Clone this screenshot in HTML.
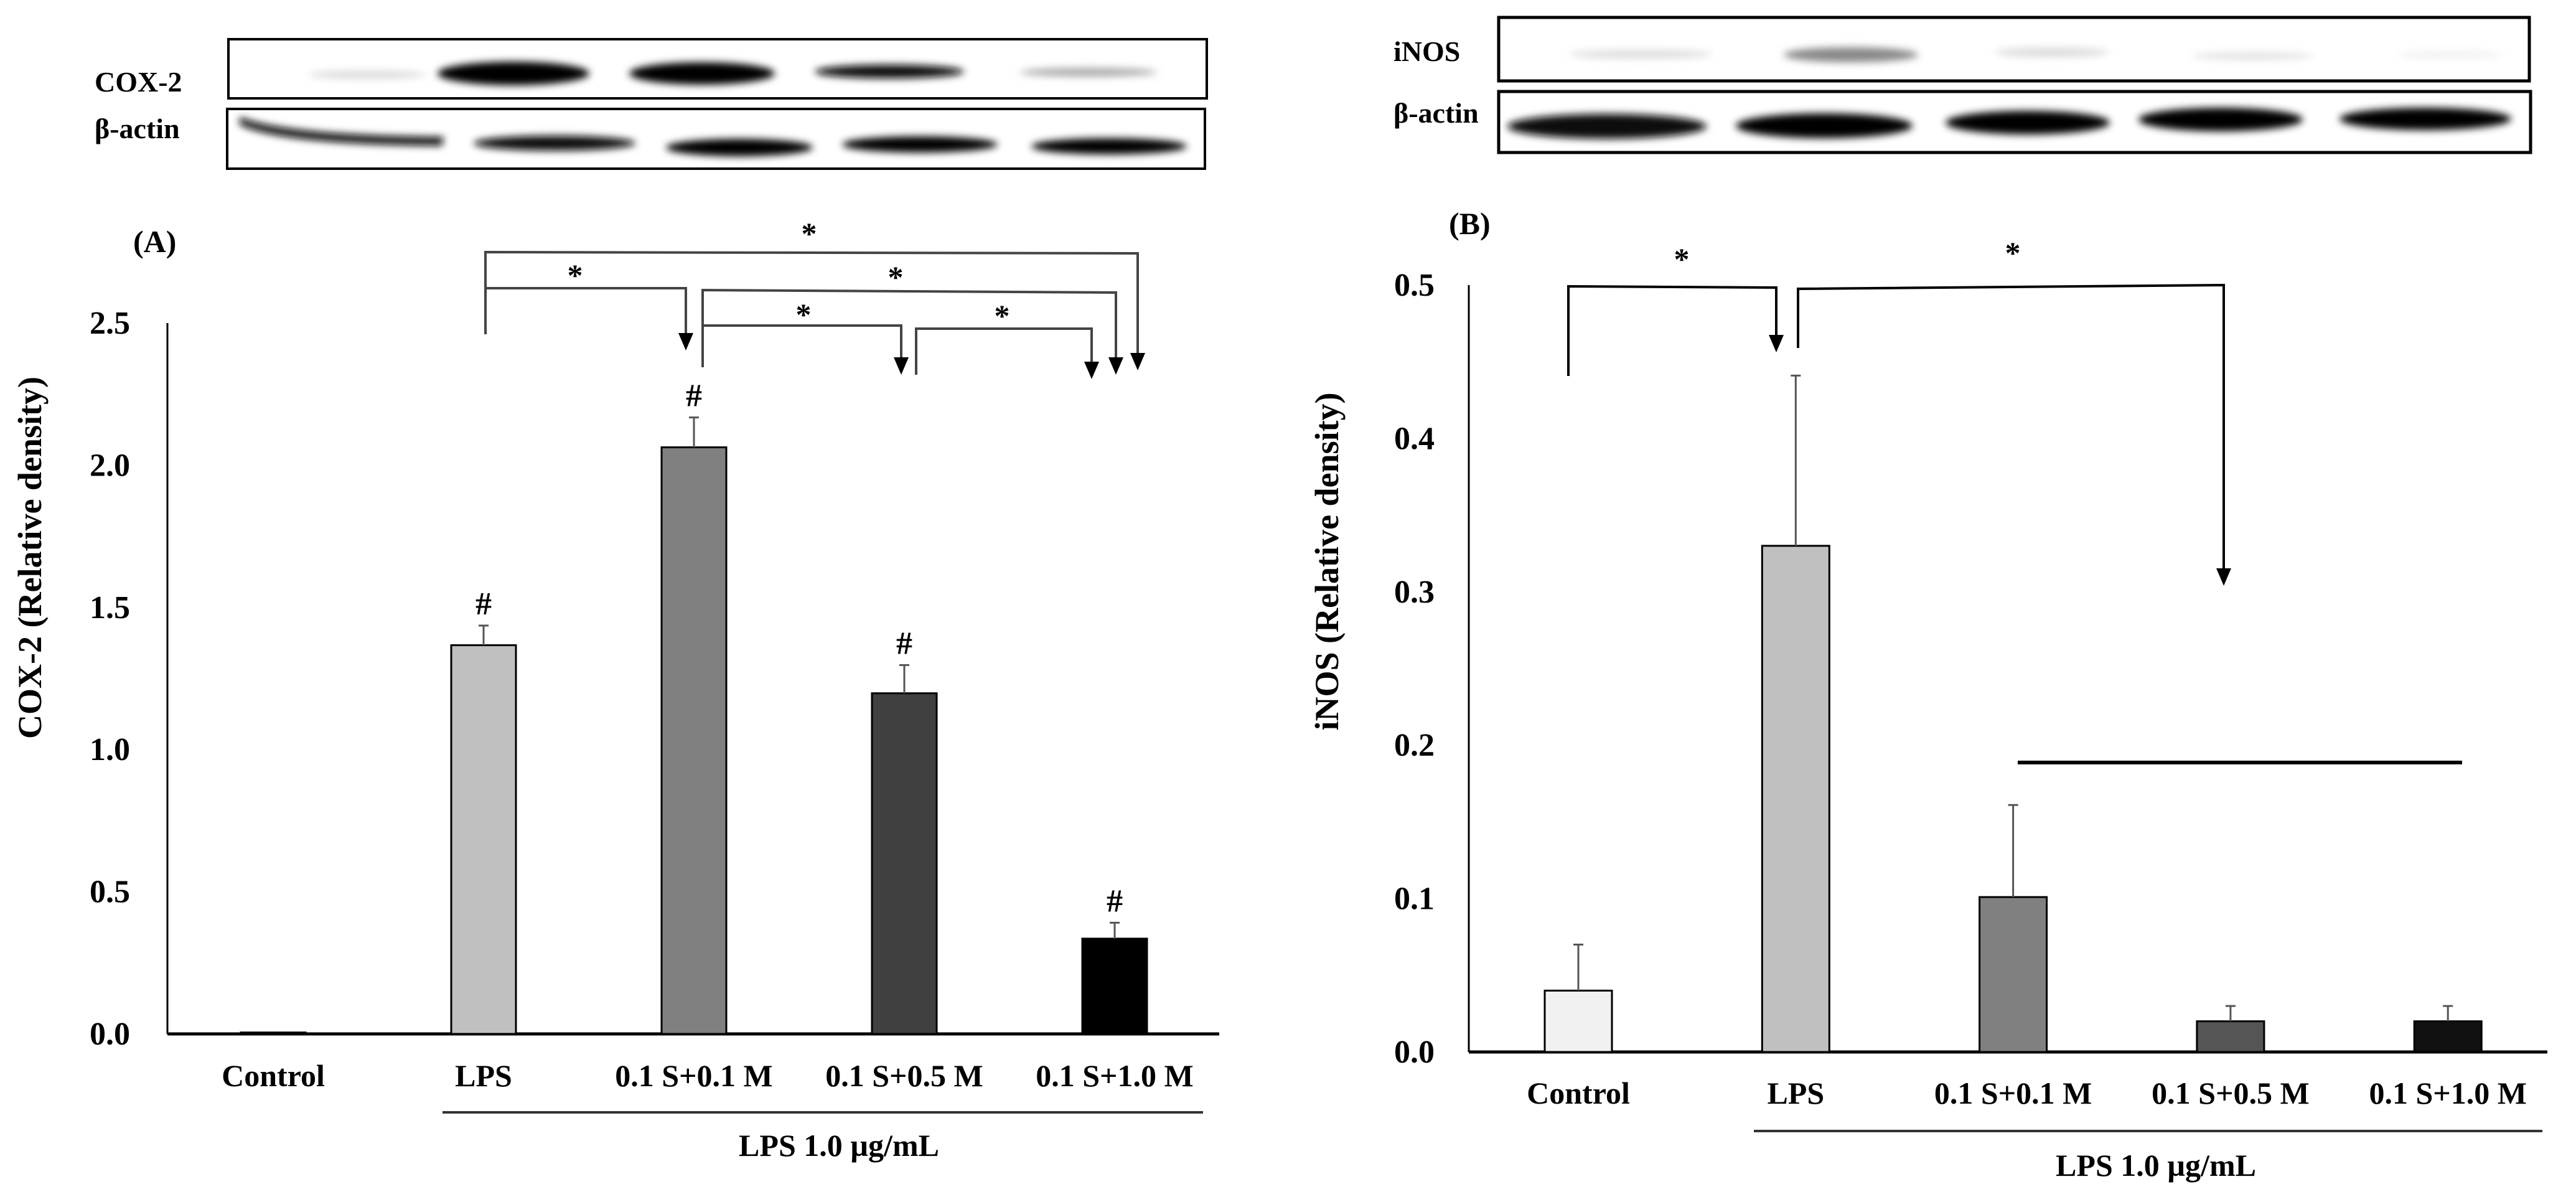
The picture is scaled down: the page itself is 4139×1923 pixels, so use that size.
<!DOCTYPE html>
<html><head><meta charset="utf-8"><style>
html,body{margin:0;padding:0;background:#fff;}
svg{display:block;font-family:"Liberation Serif",serif;font-weight:bold;}
</style></head><body>
<svg id="fig" width="4139" height="1923" viewBox="0 0 4139 1923" xmlns="http://www.w3.org/2000/svg">
<defs>
<filter id="blur" x="-20%" y="-100%" width="140%" height="300%"><feGaussianBlur stdDeviation="6"/></filter>
</defs>
<g id="blotA">
<text x="152" y="147" font-size="46">COX-2</text>
<text x="152" y="222" font-size="46">β-actin</text>
<rect x="367" y="63" width="1572" height="95" fill="#fff" stroke="#000" stroke-width="4"/>
<rect x="365" y="175" width="1571" height="96" fill="#fff" stroke="#000" stroke-width="4"/>
<g filter="url(#blur)">
<ellipse cx="590" cy="120" rx="95" ry="7" fill="#ddd"/>
<ellipse cx="825" cy="118" rx="122" ry="19" fill="#000"/>
<ellipse cx="1128" cy="118" rx="117" ry="18" fill="#000"/>
<ellipse cx="1429" cy="115" rx="120" ry="11" fill="#111"/>
<ellipse cx="1749" cy="116" rx="110" ry="7" fill="#aaa"/>
<path d="M385,188 Q460,218 713,220 L710,234 Q450,232 385,200 z" fill="#111"/>
<ellipse cx="891" cy="230" rx="130" ry="12" fill="#111"/>
<ellipse cx="1188" cy="237" rx="118" ry="14" fill="#000"/>
<ellipse cx="1478" cy="232" rx="125" ry="13" fill="#000"/>
<ellipse cx="1782" cy="235" rx="125" ry="13" fill="#000"/>
</g>
</g>
<g id="blotB">
<text x="2239" y="98" font-size="46">iNOS</text>
<text x="2239" y="197" font-size="46">β-actin</text>
<rect x="2408" y="28" width="1656" height="102" fill="#fff" stroke="#000" stroke-width="5"/>
<rect x="2408" y="147" width="1658" height="98" fill="#fff" stroke="#000" stroke-width="5"/>
<g filter="url(#blur)">
<ellipse cx="2637" cy="87" rx="115" ry="7" fill="#ddd"/>
<ellipse cx="2974" cy="88" rx="108" ry="12" fill="#888"/>
<ellipse cx="3297" cy="84" rx="92" ry="8" fill="#ddd"/>
<ellipse cx="3620" cy="90" rx="98" ry="6" fill="#e2e2e2"/>
<ellipse cx="3937" cy="88" rx="85" ry="5" fill="#eee"/>
<ellipse cx="2582" cy="203" rx="160" ry="20" fill="#111"/>
<ellipse cx="2931" cy="202" rx="142" ry="20" fill="#000"/>
<ellipse cx="3258" cy="197" rx="132" ry="19" fill="#000"/>
<ellipse cx="3568" cy="192" rx="132" ry="19" fill="#000"/>
<ellipse cx="3897" cy="191" rx="138" ry="18" fill="#000"/>
</g>
</g>
<g id="chartA"></g>
<g id="chartB"></g>
</svg>
<script>
const categories = ["Control","LPS","0.1 S+0.1 M","0.1 S+0.5 M","0.1 S+1.0 M"];
const cox2Values = [0.005,1.367,2.063,1.198,0.335];
const cox2Errors = [0,0.069,0.105,0.099,0.056];
const cox2Hash = [false,true,true,true,true];
const cox2Ticks = ["0.0","0.5","1.0","1.5","2.0","2.5"];
const inosValues = [0.040,0.330,0.101,0.020,0.020];
const inosErrors = [0.030,0.111,0.060,0.010,0.010];
const inosTicks = ["0.0","0.1","0.2","0.3","0.4","0.5"];
const NS="http://www.w3.org/2000/svg";
function mk(parent,tag,attrs,text){const e=document.createElementNS(NS,tag);for(const k in attrs)e.setAttribute(k,attrs[k]);if(text!==undefined)e.textContent=text;parent.appendChild(e);return e;}

function drawChart(g,cfg){
  const yS=v=>cfg.y0-(v/cfg.ymax)*(cfg.y0-cfg.ytop);
  const xS=i=>cfg.x0c+i*cfg.step;
  let e;
  e=mk(g,'line',{x1:cfg.ax,y1:cfg.ytop,x2:cfg.ax,y2:cfg.y0,stroke:'#000','stroke-width':3});
  
  
  e=mk(g,'line',{x1:cfg.ax,y1:cfg.y0,x2:cfg.axEnd,y2:cfg.y0,stroke:'#000','stroke-width':5});
  
  
  cfg.ticks.forEach((t,i)=>{
    const v=parseFloat(t);
    e=mk(g,'text',{x:cfg.tickRight,y:yS(v)+17,'font-size':52,'text-anchor':'end'},t);
    
    
  });
  categories.forEach((c,i)=>{
    const cx=xS(i), v=cfg.values[i], top=yS(v);
    e=mk(g,'rect',{x:cx-cfg.bw/2,y:top,width:cfg.bw,height:cfg.y0-top,fill:cfg.fills[i],stroke:'#000','stroke-width':3});
    
    
    if(cfg.errors[i]>0){
      const et=yS(v+cfg.errors[i]);
      e=mk(g,'path',{d:`M${cx},${top} V${et} M${cx-8},${et} H${cx+8}`,stroke:'#555','stroke-width':3,fill:'none'});
      
      
      if(cfg.hash&&cfg.hash[i]){
        e=mk(g,'text',{x:cx,y:et-18,'font-size':52,'text-anchor':'middle'},'#');
        
        
      }
    }
    e=mk(g,'text',{x:cx,y:cfg.labY,'font-size':50,'text-anchor':'middle'},c);
    
    
  });
  e=mk(g,'line',{x1:cfg.grp[0],y1:cfg.grp[2],x2:cfg.grp[1],y2:cfg.grp[2],stroke:'#333','stroke-width':4});
  
  
  e=mk(g,'text',{x:cfg.grpText[0],y:cfg.grpText[1],'font-size':50,'text-anchor':'middle'},'LPS 1.0 µg/mL');
  
  
  e=mk(g,'text',{x:cfg.titleX,y:cfg.titleY,'font-size':54,'text-anchor':'middle',transform:`rotate(-90 ${cfg.titleX} ${cfg.titleY})`},cfg.title);
  
  
  e.setAttribute('xml:space','preserve');
  e=mk(g,'text',{x:cfg.panel[0],y:cfg.panel[1],'font-size':50},cfg.panel[2]);
  
  
  cfg.brackets.forEach(b=>{
    const p=b.pts, n=p.length;
    const tipX=p[n-2], tipY=p[n-1];
    const pts=[];for(let k=0;k<n;k+=2)pts.push(p[k]+','+(k===n-2?tipY-20:p[k+1]));
    e=mk(g,'polyline',{points:pts.join(' '),fill:'none',stroke:b.c||'#000','stroke-width':4});
    
    
    e=mk(g,'polygon',{points:`${tipX-12},${tipY-28} ${tipX+12},${tipY-28} ${tipX},${tipY}`,fill:'#000'});
    
    
    e=mk(g,'text',{x:b.s[0],y:b.s[1]+22,'font-size':50,'text-anchor':'middle'},'*');
    
    
  });
}
drawChart(document.getElementById('chartA'),{
  values:cox2Values,errors:cox2Errors,hash:cox2Hash,ticks:cox2Ticks,ymax:2.5,
  y0:1661,ytop:519,ax:269,axEnd:1959,tickRight:209,x0c:439,step:338,bw:104,labY:1745,
  fills:['#fff','#c0c0c0','#808080','#404040','#000'],
  grp:[711,1933,1787],grpText:[1348,1857],title:'COX-2  (Relative density)',titleX:66,titleY:896,
  panel:[214,405,'(A)'],
  brackets:[
    {pts:[780,537,780,405,1828,407,1828,595],s:[1300,370],c:'#444'},
    {pts:[780,463,1102,463,1102,563],s:[924,437],c:'#444'},
    {pts:[1129,590,1129,466,1793,470,1793,602],s:[1439,440],c:'#444'},
    {pts:[1129,523,1448,523,1448,602],s:[1291,500],c:'#444'},
    {pts:[1472,602,1472,528,1754,528,1754,609],s:[1610,502],c:'#444'}
  ]
});
drawChart(document.getElementById('chartB'),{
  values:inosValues,errors:inosErrors,ticks:inosTicks,ymax:0.5,
  y0:1690,ytop:458,ax:2360,axEnd:4093,tickRight:2305,x0c:2536,step:349.3,bw:108,labY:1773,
  fills:['#f0f0f0','#c0c0c0','#808080','#555','#111'],
  grp:[2818,4085,1817],grpText:[3464,1889],title:'iNOS  (Relative density)',titleX:2150,titleY:902,
  panel:[2328,376,'(B)'],
  brackets:[
    {pts:[2520,604,2520,460,2854,462,2854,566],s:[2702,411]},
    {pts:[2889,559,2889,464,3573,458,3573,941],s:[3234,401]}
  ]
});
const hl=mk(document.getElementById('chartB'),'line',{x1:3242,y1:1225,x2:3956,y2:1225,stroke:'#000','stroke-width':6});


</script>
</body></html>
